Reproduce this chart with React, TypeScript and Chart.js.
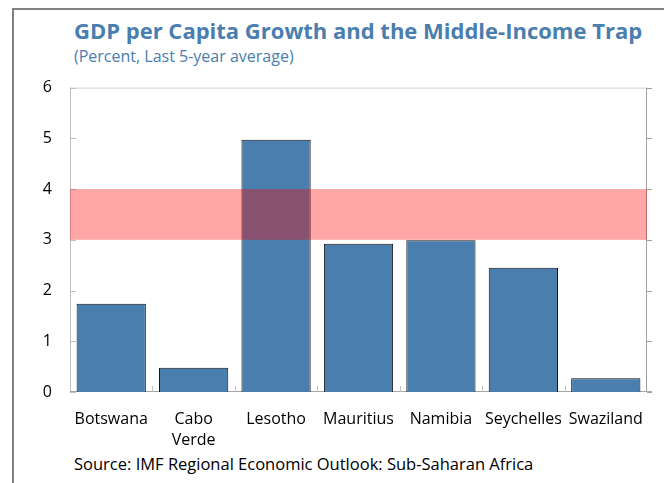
import React, { useEffect, useRef } from "react";
import { Chart, registerables } from "chart.js";

Chart.register(...registerables);

const categories: (string | string[])[] = [
  "Botswana",
  ["Cabo", "Verde"],
  "Lesotho",
  "Mauritius",
  "Namibia",
  "Seychelles",
  "Swaziland",
];
const growthValues = [1.74, 0.48, 4.97, 2.92, 2.99, 2.45, 0.27];
const trapBand = [3, 4];
const yTicks = [0, 1, 2, 3, 4, 5, 6];

const titleText = "GDP per Capita Growth and the Middle-Income Trap";
const subtitleText = "(Percent, Last 5-year average)";
const sourceText = "Source: IMF Regional Economic Outlook: Sub-Saharan Africa";

const FONT = "'Open Sans', 'Noto Sans', sans-serif";
const BLUE = "#4A7EAE";

const framePlugin = {
  id: "frame",
  beforeDatasetsDraw(chart: any) {
    const { ctx, chartArea, scales } = chart;
    const { left, right, top, bottom } = chartArea;
    const y = scales.y;
    const x = scales.x;
    ctx.save();
    ctx.lineWidth = 1;
    ctx.strokeStyle = "#CFCFCF";
    ctx.beginPath();
    ctx.moveTo(left, top + 0.5);
    ctx.lineTo(right, top + 0.5);
    ctx.stroke();
    ctx.strokeStyle = "#BFBFBF";
    ctx.beginPath();
    ctx.moveTo(left + 0.5, top);
    ctx.lineTo(left + 0.5, bottom);
    yTicks.forEach((v) => {
      const py = Math.round(y.getPixelForValue(v)) + 0.5;
      ctx.moveTo(left, py);
      ctx.lineTo(left + 6, py);
    });
    ctx.stroke();
    ctx.strokeStyle = "#A0A0A0";
    ctx.beginPath();
    ctx.moveTo(right - 0.5, top);
    ctx.lineTo(right - 0.5, bottom);
    yTicks.forEach((v) => {
      const py = Math.round(y.getPixelForValue(v)) + 0.5;
      ctx.moveTo(right, py);
      ctx.lineTo(right + 5, py);
    });
    ctx.stroke();
    ctx.strokeStyle = "#A6A6A6";
    ctx.beginPath();
    ctx.moveTo(left, bottom - 0.5);
    ctx.lineTo(right + 5, bottom - 0.5);
    ctx.stroke();
    ctx.strokeStyle = "#BFBFBF";
    ctx.beginPath();
    for (let i = 1; i < categories.length; i++) {
      const px =
        Math.round((x.getPixelForValue(i - 1) + x.getPixelForValue(i)) / 2) + 0.5;
      ctx.moveTo(px, bottom);
      ctx.lineTo(px, bottom - 6);
    }
    ctx.stroke();
    ctx.restore();
  },
  afterDatasetsDraw(chart: any) {
    const { ctx, chartArea, scales } = chart;
    const y = scales.y;
    const y1 = y.getPixelForValue(trapBand[1]);
    const y0 = y.getPixelForValue(trapBand[0]);
    ctx.save();
    ctx.fillStyle = "rgba(255, 0, 0, 0.35)";
    ctx.fillRect(chartArea.left, y1, chartArea.right - chartArea.left, y0 - y1);
    ctx.restore();
  },
};

export default function App() {
  const canvasRef = useRef<HTMLCanvasElement>(null);

  useEffect(() => {
    if (!canvasRef.current) return;
    const chart = new Chart(canvasRef.current, {
      type: "bar",
      data: {
        labels: categories,
        datasets: [
          {
            data: growthValues,
            backgroundColor: BLUE,
            borderColor: "#111111",
            borderWidth: 1,
            barPercentage: 0.84,
            categoryPercentage: 1,
          },
        ],
      },
      options: {
        animation: false,
        responsive: false,
        maintainAspectRatio: false,
        layout: { padding: { top: 0, right: 17, left: 0, bottom: 0 } },
        plugins: {
          legend: { display: false },
          tooltip: { enabled: false },
          title: { display: false },
        },
        scales: {
          x: {
            grid: { display: false, drawTicks: false },
            border: { display: false },
            ticks: {
              color: "#000000",
              font: { family: FONT, size: 16, lineHeight: 1.3 },
              padding: 17,
              maxRotation: 0,
              autoSkip: false,
            },
            afterFit: (scale: any) => {
              scale.height = 59;
            },
          },
          y: {
            min: 0,
            max: 6,
            grid: { display: false, drawTicks: false },
            border: { display: false },
            ticks: {
              stepSize: 1,
              color: "#000000",
              font: { family: FONT, size: 16 },
              padding: 18,
            },
            afterFit: (scale: any) => {
              scale.width = 62;
            },
          },
        },
      },
      plugins: [framePlugin],
    });
    return () => chart.destroy();
  }, []);

  return (
    <div
      style={{
        position: "fixed",
        left: 0,
        top: 0,
        width: 664,
        height: 483,
        overflow: "hidden",
        background: "#ffffff",
        fontFamily: FONT,
      }}
    >
      <div
        style={{
          position: "absolute",
          left: 12,
          top: 8,
          right: 0,
          bottom: 0,
          borderTop: "2px solid #808080",
          borderLeft: "2px solid #808080",
        }}
      />
      <div
        style={{
          position: "absolute",
          left: 74,
          top: 17,
          fontSize: 22,
          lineHeight: "26px",
          fontWeight: 700,
          color: BLUE,
          whiteSpace: "nowrap",
        }}
      >
        {titleText}
      </div>
      <div
        style={{
          position: "absolute",
          left: 74,
          top: 46,
          fontSize: 16,
          lineHeight: "20px",
          color: BLUE,
          whiteSpace: "nowrap",
        }}
      >
        {subtitleText}
      </div>
      <canvas
        ref={canvasRef}
        width={656}
        height={391}
        style={{ position: "absolute", left: 8, top: 60, width: 656, height: 391 }}
      />
      <div
        style={{
          position: "absolute",
          left: 74,
          top: 454,
          fontSize: 16.5,
          lineHeight: "20px",
          color: "#000000",
          whiteSpace: "nowrap",
        }}
      >
        {sourceText}
      </div>
    </div>
  );
}
